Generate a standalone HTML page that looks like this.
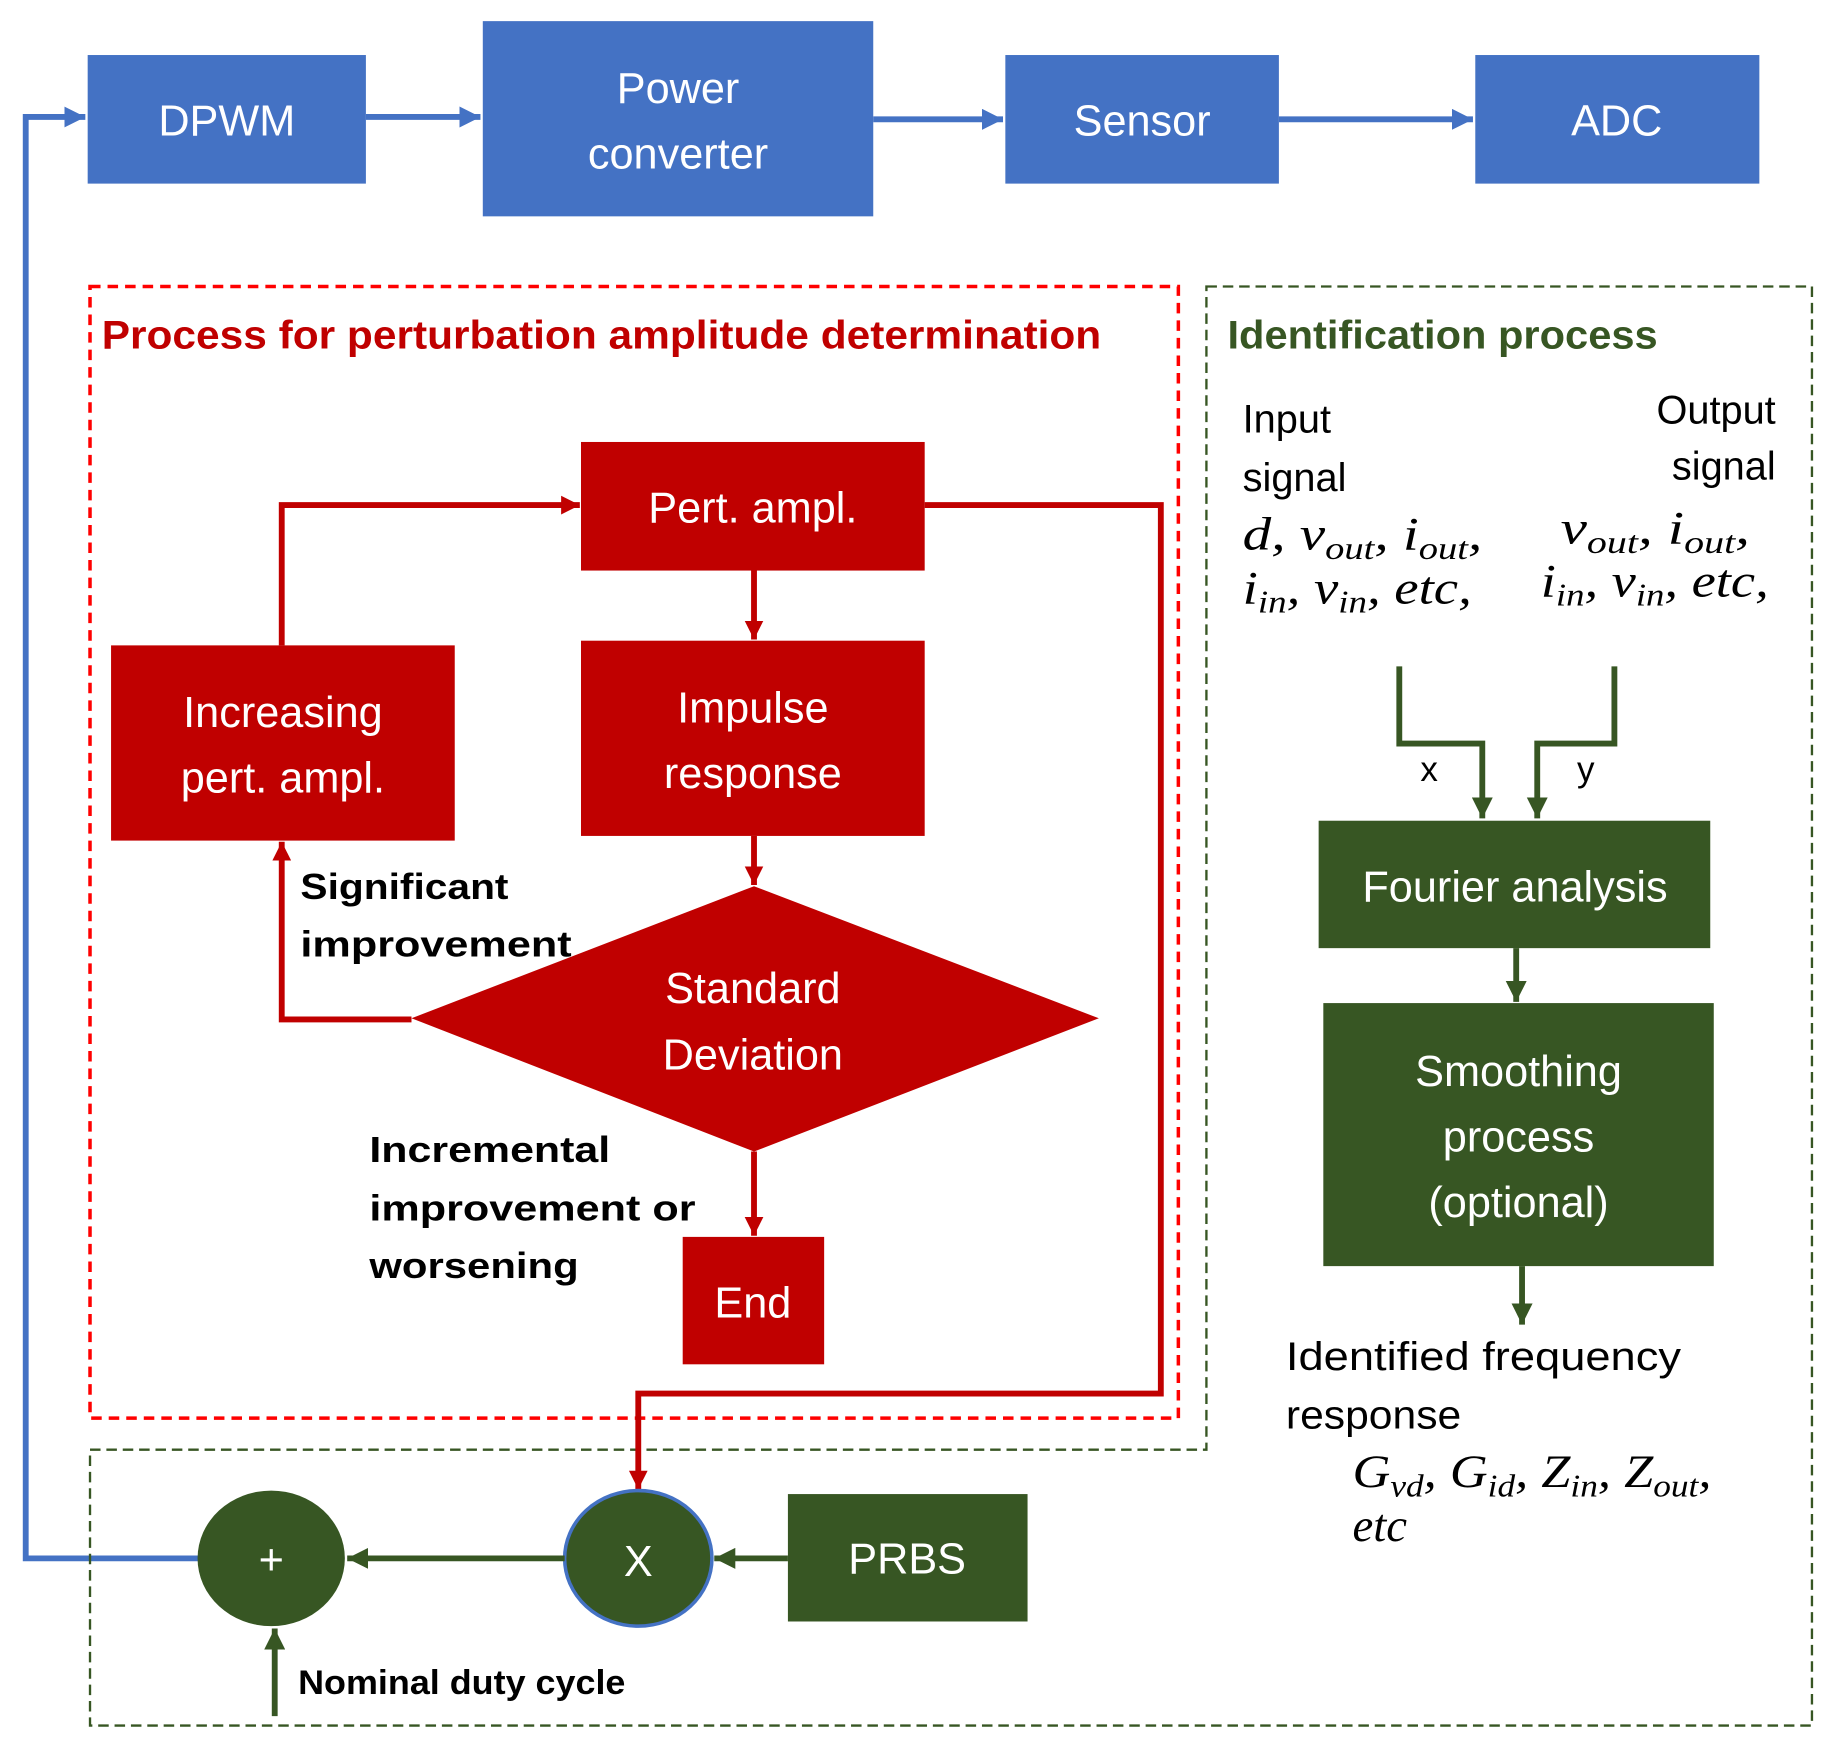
<!DOCTYPE html>
<html><head><meta charset="utf-8"><style>
html,body{margin:0;padding:0;background:#fff;}
svg{display:block;}
.w{fill:#fff;font-family:"Liberation Sans",sans-serif;font-size:37px;text-anchor:middle;}
.m{font-family:"Liberation Serif",serif;font-style:italic;font-size:40px;fill:#000;}
.s{font-size:27px;}
.t{font-family:"Liberation Sans",sans-serif;font-size:34px;fill:#000;}
.b{font-family:"Liberation Sans",sans-serif;font-size:31px;font-weight:bold;fill:#000;}
</style></head><body>
<svg width="1833" height="1749" viewBox="0 0 1568 1496" xmlns="http://www.w3.org/2000/svg">
<defs>
<marker id="ar" viewBox="0 0 10 10" markerWidth="16" markerHeight="16" refX="10" refY="5" orient="auto" markerUnits="userSpaceOnUse"><path d="M0,0 L10,5 L0,10z" fill="#C00000"/></marker>
<marker id="ag" viewBox="0 0 10 10" markerWidth="18" markerHeight="18" refX="10" refY="5" orient="auto" markerUnits="userSpaceOnUse"><path d="M0,0 L10,5 L0,10z" fill="#375623"/></marker>
<marker id="abl" viewBox="0 0 10 10" markerWidth="18" markerHeight="18" refX="10" refY="5" orient="auto" markerUnits="userSpaceOnUse"><path d="M0,0 L10,5 L0,10z" fill="#4472C4"/></marker>
</defs>
<g fill="#4472C4">
<rect x="75" y="47" width="238" height="110"/>
<rect x="413" y="18" width="334" height="167"/>
<rect x="860" y="47" width="234" height="110"/>
<rect x="1262" y="47" width="243" height="110"/>
</g>
<text class="w" x="194" y="116">DPWM</text>
<text class="w" x="580" y="88">Power</text>
<text class="w" x="580" y="144">converter</text>
<text class="w" x="977" y="116">Sensor</text>
<text class="w" x="1383" y="116">ADC</text>
<g stroke="#4472C4" stroke-width="5" fill="none">
<line x1="313" y1="100" x2="411" y2="100" marker-end="url(#abl)"/>
<line x1="747" y1="102" x2="858" y2="102" marker-end="url(#abl)"/>
<line x1="1094" y1="102" x2="1260" y2="102" marker-end="url(#abl)"/>
<polyline points="170,1333 22,1333 22,100 73,100" marker-end="url(#abl)"/>
</g>
<path d="M1032,245 L1550,245 L1550,1476 L77,1476 L77,1240 L1032,1240 Z" fill="none" stroke="#375623" stroke-width="2" stroke-dasharray="9,5"/>
<rect x="77" y="245" width="931" height="968" fill="none" stroke="#FF0000" stroke-width="3" stroke-dasharray="9,6"/>
<text x="87" y="298" textLength="855" lengthAdjust="spacingAndGlyphs" style="font-family:'Liberation Sans',sans-serif;font-size:34px;font-weight:bold;fill:#C00000">Process for perturbation amplitude determination</text>
<text x="1050" y="298" textLength="368" lengthAdjust="spacingAndGlyphs" style="font-family:'Liberation Sans',sans-serif;font-size:34px;font-weight:bold;fill:#375623">Identification process</text>
<g fill="#C00000">
<rect x="497" y="378" width="294" height="110"/>
<rect x="497" y="548" width="294" height="167"/>
<rect x="95" y="552" width="294" height="167"/>
<polygon points="645,758 940,871 645,985 352,871"/>
<rect x="584" y="1058" width="121" height="109"/>
</g>
<text class="w" x="644" y="447">Pert. ampl.</text>
<text class="w" x="644" y="618">Impulse</text>
<text class="w" x="644" y="674">response</text>
<text class="w" x="242" y="622">Increasing</text>
<text class="w" x="242" y="678">pert. ampl.</text>
<text class="w" x="644" y="858">Standard</text>
<text class="w" x="644" y="915">Deviation</text>
<text class="w" x="644" y="1127">End</text>
<g stroke="#C00000" stroke-width="5" fill="none">
<line x1="645" y1="488" x2="645" y2="547" marker-end="url(#ar)"/>
<line x1="645" y1="715" x2="645" y2="757" marker-end="url(#ar)"/>
<line x1="645" y1="985" x2="645" y2="1057" marker-end="url(#ar)"/>
<polyline points="241,552 241,432 496,432" marker-end="url(#ar)"/>
<polyline points="352,872 241,872 241,720" marker-end="url(#ar)"/>
<polyline points="791,432 993,432 993,1192 546,1192 546,1274" marker-end="url(#ar)"/>
</g>
<text class="b" x="257" y="769" textLength="178" lengthAdjust="spacingAndGlyphs">Significant</text>
<text class="b" x="257" y="818" textLength="232" lengthAdjust="spacingAndGlyphs">improvement</text>
<text class="b" x="316" y="994" textLength="206" lengthAdjust="spacingAndGlyphs">Incremental</text>
<text class="b" x="316" y="1044" textLength="279" lengthAdjust="spacingAndGlyphs">improvement or</text>
<text class="b" x="316" y="1093" textLength="179" lengthAdjust="spacingAndGlyphs">worsening</text>
<ellipse cx="232" cy="1333" rx="63" ry="58" fill="#375623"/>
<ellipse cx="546" cy="1333" rx="63" ry="58" fill="#375623" stroke="#4472C4" stroke-width="3"/>
<rect x="674" y="1278" width="205" height="109" fill="#375623"/>
<text class="w" x="232" y="1347">+</text>
<text class="w" x="546" y="1348">X</text>
<text class="w" x="776" y="1346">PRBS</text>
<g stroke="#375623" stroke-width="5" fill="none">
<line x1="674" y1="1333" x2="611" y2="1333" marker-end="url(#ag)"/>
<line x1="483" y1="1333" x2="297" y2="1333" marker-end="url(#ag)"/>
<line x1="235" y1="1468" x2="235" y2="1393" marker-end="url(#ag)"/>
</g>
<text class="b" x="255" y="1449" textLength="280" lengthAdjust="spacingAndGlyphs" style="font-size:29px">Nominal duty cycle</text>
<text class="t" x="1063" y="370">Input</text>
<text class="t" x="1063" y="420">signal</text>
<text class="t" x="1519" y="362" text-anchor="end">Output</text>
<text class="t" x="1519" y="410" text-anchor="end">signal</text>
<text class="m" x="1063" y="470" textLength="205" lengthAdjust="spacingAndGlyphs">d, v<tspan class="s" dy="8">out</tspan><tspan dy="-8">, i</tspan><tspan class="s" dy="8">out</tspan><tspan dy="-8">,</tspan></text>
<text class="m" x="1063" y="516" textLength="196" lengthAdjust="spacingAndGlyphs">i<tspan class="s" dy="8">in</tspan><tspan dy="-8">, v</tspan><tspan class="s" dy="8">in</tspan><tspan dy="-8">, etc,</tspan></text>
<text class="m" x="1335" y="465" textLength="162" lengthAdjust="spacingAndGlyphs">v<tspan class="s" dy="8">out</tspan><tspan dy="-8">, i</tspan><tspan class="s" dy="8">out</tspan><tspan dy="-8">,</tspan></text>
<text class="m" x="1318" y="510" textLength="195" lengthAdjust="spacingAndGlyphs">i<tspan class="s" dy="8">in</tspan><tspan dy="-8">, v</tspan><tspan class="s" dy="8">in</tspan><tspan dy="-8">, etc,</tspan></text>
<g stroke="#375623" stroke-width="5" fill="none">
<polyline points="1197,570 1197,636 1268,636 1268,700" marker-end="url(#ag)"/>
<polyline points="1381,570 1381,636 1315,636 1315,700" marker-end="url(#ag)"/>
<line x1="1297" y1="811" x2="1297" y2="857" marker-end="url(#ag)"/>
<line x1="1302" y1="1083" x2="1302" y2="1133" marker-end="url(#ag)"/>
</g>
<text class="t" x="1215" y="668" style="font-size:30px">x</text>
<text class="t" x="1349" y="668" style="font-size:30px">y</text>
<rect x="1128" y="702" width="335" height="109" fill="#375623"/>
<rect x="1132" y="858" width="334" height="225" fill="#375623"/>
<text class="w" x="1296" y="771">Fourier analysis</text>
<text class="w" x="1299" y="929">Smoothing</text>
<text class="w" x="1299" y="985">process</text>
<text class="w" x="1299" y="1041">(optional)</text>
<text class="t" x="1100" y="1172" textLength="338" lengthAdjust="spacingAndGlyphs">Identified frequency</text>
<text class="t" x="1100" y="1222" textLength="150" lengthAdjust="spacingAndGlyphs">response</text>
<text class="m" x="1157" y="1272" textLength="307" lengthAdjust="spacingAndGlyphs">G<tspan class="s" dy="8">vd</tspan><tspan dy="-8">, G</tspan><tspan class="s" dy="8">id</tspan><tspan dy="-8">, Z</tspan><tspan class="s" dy="8">in</tspan><tspan dy="-8">, Z</tspan><tspan class="s" dy="8">out</tspan><tspan dy="-8">,</tspan></text>
<text class="m" x="1157" y="1318">etc</text>
</svg>
</body></html>
